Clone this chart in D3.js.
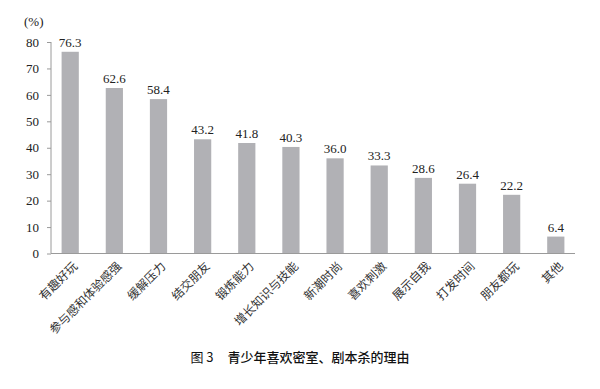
<!DOCTYPE html>
<html><head><meta charset="utf-8">
<script src="https://cdn.jsdelivr.net/npm/d3@7"></script>
<style>body{margin:0;background:#fff}</style>
</head><body>
<script>
const categories = ["有趣好玩","参与感和体验感强","缓解压力","结交朋友","锻炼能力","增长知识与技能","新潮时尚","喜欢刺激","展示自我","打发时间","朋友都玩","其他"];
const values = [76.3,62.6,58.4,43.2,41.8,40.3,36.0,33.3,28.6,26.4,22.2,6.4];
const yTicks = [0,10,20,30,40,50,60,70,80];
const unitLabel = "(%)";
const figLabel = "图 3";
const titleText = "青少年喜欢密室、剧本杀的理由";

const W = 600, H = 389;
const svg = d3.select("body").append("svg").attr("width", W).attr("height", H);
const serif = "'Liberation Serif','DejaVu Serif',serif";
const cjk = "'Noto Sans CJK SC','Noto Sans',sans-serif";
const X0 = 51, X1 = 575;

const x = d3.scaleBand().domain(categories).range([X0, X1]).paddingInner(0.61).paddingOuter(0.24);
const y = d3.scaleLinear().domain([0, 80]).range([253.5, 42]);

// y axis
const yAxis = svg.append("g").attr("transform", `translate(${X0},0)`)
  .call(d3.axisLeft(y).tickValues(yTicks).tickSize(4).tickPadding(8));
yAxis.select(".domain").attr("stroke", "#9a9a9a").attr("d", "M0," + y(80) + "V" + y(0));
yAxis.selectAll(".tick line").attr("stroke", "#9a9a9a");
yAxis.selectAll("text").attr("font-family", serif).attr("font-size", 13).attr("fill", "#222");

// bars
svg.selectAll("rect.bar").data(values).join("rect").attr("class", "bar")
  .attr("x", (d, i) => x(categories[i]))
  .attr("width", x.bandwidth())
  .attr("y", d => y(d))
  .attr("height", d => y(0) - y(d))
  .attr("fill", "#b1b1b5");

// value labels
svg.selectAll("text.val").data(values).join("text").attr("class", "val")
  .attr("x", (d, i) => x(categories[i]) + x.bandwidth() / 2)
  .attr("y", d => y(d) - 5)
  .attr("text-anchor", "middle")
  .attr("font-family", serif).attr("font-size", 13).attr("fill", "#222")
  .text(d => d.toFixed(1));

// x axis
const xAxis = svg.append("g").attr("transform", `translate(0,${y(0)})`)
  .call(d3.axisBottom(x).tickSize(0).tickFormat(""));
xAxis.select(".domain").attr("stroke", "#9a9a9a").attr("d", `M${X0},0H${X1}`);

// x labels
svg.selectAll("text.cat").data(categories).join("text").attr("class", "cat")
  .attr("transform", d => `translate(${x(d) + x.bandwidth() / 2 + 5},264) rotate(-45)`)
  .attr("text-anchor", "end")
  .attr("dy", "0.35em")
  .attr("font-family", cjk).attr("font-size", 12).attr("fill", "#333")
  .text(d => d);

// unit
svg.append("text").attr("x", 24).attr("y", 26)
  .attr("font-family", serif).attr("font-size", 13).attr("fill", "#222").text(unitLabel);

// title
const t = svg.append("text").attr("x", 300).attr("y", 362).attr("text-anchor", "middle")
  .attr("font-size", 13).attr("fill", "#111");
t.append("tspan").attr("font-family", cjk).text(figLabel);
t.append("tspan").attr("dx", 14).attr("font-family", cjk).attr("font-weight", 500).text(titleText);
</script>
</body></html>
